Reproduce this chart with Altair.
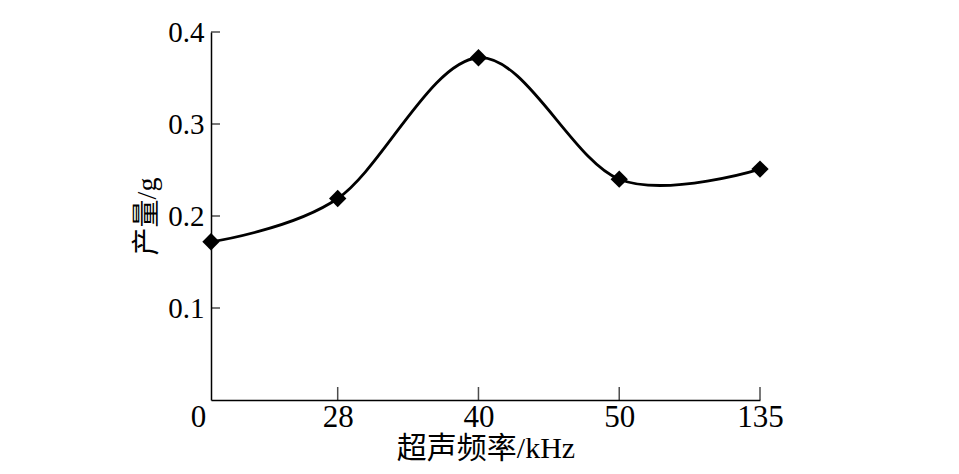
import altair as alt
import pandas as pd

# data
freq_labels = ["0", "28", "40", "50", "135"]
x_position = [0.1, 1, 2, 3, 4]
yield_g = [0.172, 0.219, 0.372, 0.240, 0.251]
y_ticks = [0.1, 0.2, 0.3, 0.4]

df = pd.DataFrame({"pos": x_position, "label": freq_labels, "y": yield_g})
ydf = pd.DataFrame({"t": y_ticks})
xdf = pd.DataFrame({"pos": x_position[1:]})

SERIF = "Liberation Serif, Noto Sans CJK SC"

label_map = "{" + ",".join(f"'{p}':'{l}'" for p, l in zip(x_position, freq_labels)) + "}"

xscale = alt.Scale(domain=[0.1, 4], nice=False, zero=False)
yscale = alt.Scale(domain=[0, 0.4], nice=False)

x_axis = alt.Axis(
    values=x_position,
    labelExpr=f"{label_map}[toString(datum.value)]",
    title="超声频率/kHz",
    titleFont=SERIF, titleFontSize=30, titleFontWeight="normal", titleColor="black",
    titlePadding=1,
    labelFont=SERIF, labelFontSize=31, labelColor="black", labelPadding=2,
    labelOffset={"condition": {"test": "datum.value < 0.5", "value": -13}, "value": 0},
    ticks=False, grid=False, domainColor="black", domainWidth=1.5,
    labelFlush=False, labelOverlap=False,
)
y_axis = alt.Axis(
    values=y_ticks,
    format=".1f",
    title="产量/g",
    titleFont=SERIF, titleFontSize=28, titleFontWeight="normal", titleColor="black",
    titlePadding=6,
    labelFont=SERIF, labelFontSize=29, labelColor="black", labelPadding=7,
    ticks=False, grid=False, domainColor="black", domainWidth=1.5,
    labelFlush=False,
)

base = alt.Chart(df)

line = base.mark_line(interpolate="cardinal", color="black", strokeWidth=2.8).encode(
    x=alt.X("pos:Q", scale=xscale, axis=x_axis),
    y=alt.Y("y:Q", scale=yscale, axis=y_axis),
)
points = base.mark_point(shape="diamond", filled=True, color="black", size=300, opacity=1).encode(
    x=alt.X("pos:Q", scale=xscale),
    y=alt.Y("y:Q", scale=yscale),
)
xticks = alt.Chart(xdf).mark_tick(orient="vertical", color="black", size=13, thickness=1.5, yOffset=-6.5).encode(
    x=alt.X("pos:Q", scale=xscale),
    y=alt.datum(0, scale=yscale),
)
yticks = alt.Chart(ydf).mark_tick(orient="horizontal", color="black", size=9, thickness=1.5, xOffset=4.5).encode(
    y=alt.Y("t:Q", scale=yscale),
    x=alt.datum(0.1, scale=xscale),
)

chart = alt.layer(xticks, yticks, line, points).properties(
    width=549,
    height=368,
    padding={"left": 203, "top": 24, "right": 190, "bottom": 66},
    autosize=alt.AutoSizeParams(type="none"),
    background="white",
).configure_view(stroke=None)

chart.save("out.html", embed_options={"renderer": "svg", "actions": False})
